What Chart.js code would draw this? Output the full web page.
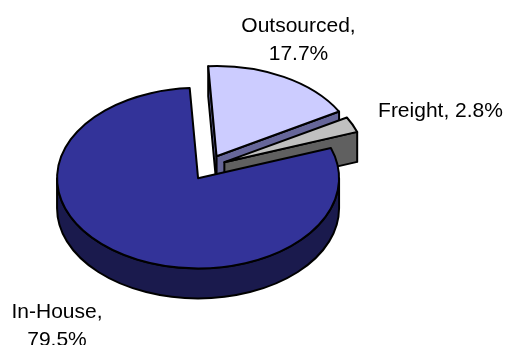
<!DOCTYPE html>
<html>
<head>
<meta charset="utf-8">
<style>
  html, body { margin: 0; padding: 0; background: #ffffff; }
  #wrap { width: 507px; height: 345px; position: relative; overflow: hidden; }
</style>
<script src="https://cdn.jsdelivr.net/npm/chart.js@4"></script>
</head>
<body>
<div id="wrap"><canvas id="pie" width="507" height="345"></canvas></div>
<script>
// Share of cost by source
const categories = ['In-House', 'Outsourced', 'Freight'];
const shares = [79.5, 17.7, 2.8];
const topColours = ['#333399', '#CCCCFF', '#C0C0C0'];
const wallColours = ['#1A1A4D', '#666699', '#606060'];
const labelLines = [['In-House,', '79.5%'], ['Outsourced,', '17.7%'], ['Freight, 2.8%']];
const labelAnchors = [[57, 318], [298.5, 32], [440.5, 117]];

const tilt = 0.64;        // vertical squash of the disc
const depth = 30;         // thickness of the disc in pixels
const explodeX = 18;      // horizontal pull of each slice from the centre
const explodeY = 12.8;    // vertical pull of each slice from the centre
const firstSliceAngle = 70.4;
const paintOrder = [1, 2, 0];

// Draws the arcs as a tilted, extruded, exploded disc using the angles
// and radius computed by the doughnut controller.
const tiltedPie = {
  id: 'tiltedPie',
  beforeDatasetDraw(chart, args) {
    const ctx = chart.ctx;
    const arcs = args.meta.data;
    const outline = (fill) => {
      ctx.fillStyle = fill;
      ctx.fill();
      ctx.lineWidth = 2;
      ctx.strokeStyle = '#000000';
      ctx.lineJoin = 'round';
      ctx.stroke();
    };
    paintOrder.forEach((i) => {
      const arc = arcs[i];
      const r = arc.outerRadius;
      const mid = (arc.startAngle + arc.endAngle) / 2;
      const cx = arc.x + Math.cos(mid) * explodeX;
      const cy = arc.y + Math.sin(mid) * explodeY;
      const ry = r * tilt;
      const px = (a) => cx + Math.cos(a) * r;
      const py = (a) => cy + Math.sin(a) * ry;

      // Radial faces: a cut edge is only seen when it turns towards the viewer
      const faces = [];
      if (Math.cos(arc.startAngle) < 0) faces.push(arc.startAngle);
      if (Math.cos(arc.endAngle) > 0) faces.push(arc.endAngle);
      faces.forEach((a) => {
        ctx.beginPath();
        ctx.moveTo(cx, cy);
        ctx.lineTo(px(a), py(a));
        ctx.lineTo(px(a), py(a) + depth);
        ctx.lineTo(cx, cy + depth);
        ctx.closePath();
        outline(wallColours[i]);
      });

      // Outer wall, only where the rim faces the viewer
      const tau = Math.PI * 2;
      for (let k = -1; k <= 2; k++) {
        const from = Math.max(arc.startAngle, k * tau);
        const to = Math.min(arc.endAngle, k * tau + Math.PI);
        if (to > from) {
          ctx.beginPath();
          ctx.ellipse(cx, cy, r, ry, 0, from, to);
          ctx.lineTo(px(to), py(to) + depth);
          ctx.ellipse(cx, cy + depth, r, ry, 0, to, from, true);
          ctx.closePath();
          outline(wallColours[i]);
        }
      }

      // Top face
      ctx.beginPath();
      ctx.moveTo(cx, cy);
      ctx.ellipse(cx, cy, r, ry, 0, arc.startAngle, arc.endAngle);
      ctx.closePath();
      outline(arc.options.backgroundColor);
    });
    return false;
  },
  afterDatasetsDraw(chart) {
    const ctx = chart.ctx;
    ctx.font = '21px "Liberation Sans", Arial, sans-serif';
    ctx.fillStyle = '#000000';
    ctx.textAlign = 'center';
    ctx.textBaseline = 'alphabetic';
    labelLines.forEach((lines, i) => {
      lines.forEach((line, n) => {
        ctx.fillText(line, labelAnchors[i][0], labelAnchors[i][1] + n * 28);
      });
    });
  }
};

new Chart(document.getElementById('pie'), {
  type: 'pie',
  data: {
    labels: categories,
    datasets: [{
      data: shares,
      backgroundColor: topColours,
      borderColor: '#000000',
      radius: 141
    }]
  },
  options: {
    responsive: false,
    animation: false,
    rotation: firstSliceAngle,
    layout: { padding: { left: 0, right: 91, top: 0, bottom: 10 } },
    plugins: { legend: { display: false }, tooltip: { enabled: false } }
  },
  plugins: [tiltedPie]
});
</script>
</body>
</html>
